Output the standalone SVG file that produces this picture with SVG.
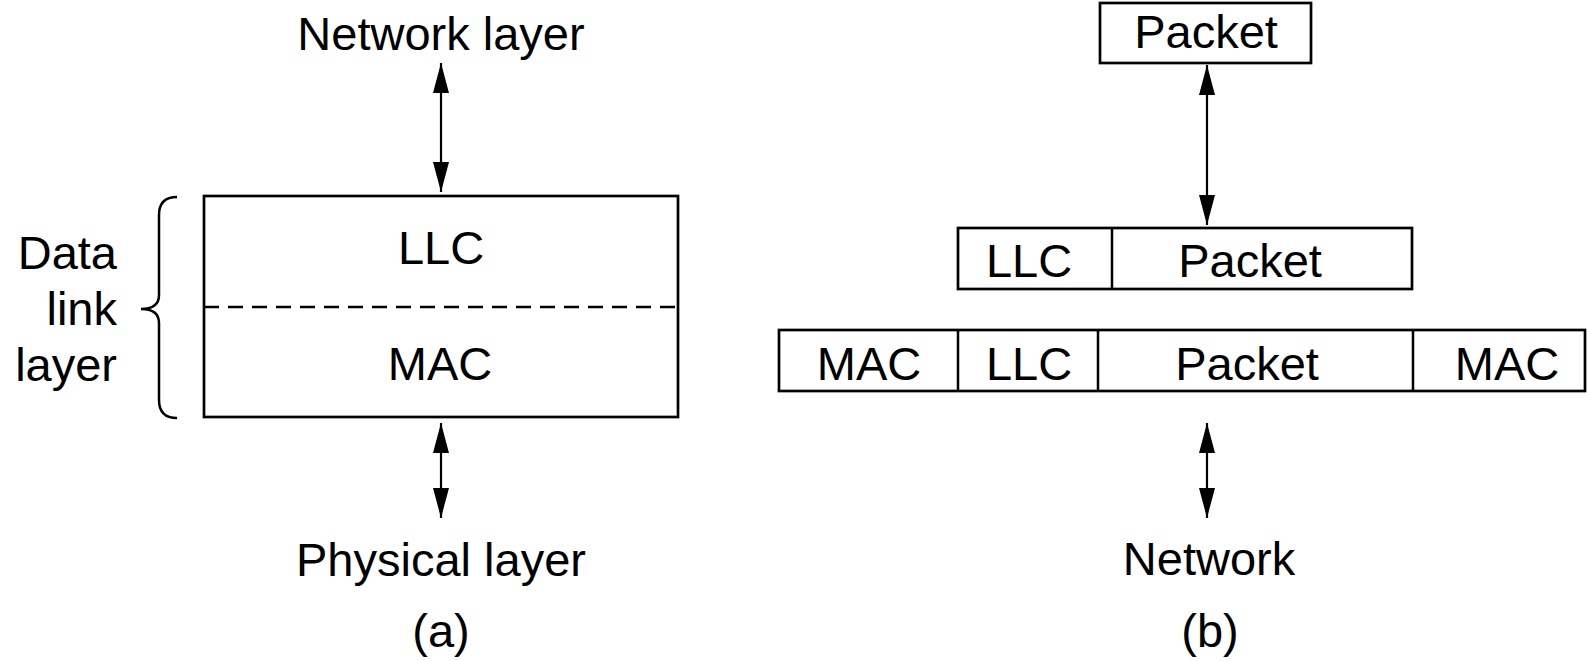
<svg xmlns="http://www.w3.org/2000/svg" width="1587" height="661" viewBox="0 0 1587 661">
<style>
text{font-family:"Liberation Sans",Arial,sans-serif;font-size:47px;fill:#000;text-anchor:middle}
.box{fill:none;stroke:#000;stroke-width:2.7}
.ln{stroke:#000;stroke-width:2.5;fill:none}
.arr{stroke:#000;stroke-width:2.2;fill:none;marker-start:url(#ah);marker-end:url(#ah)}
</style>
<defs>
<marker id="ah" viewBox="0 0 30 16" refX="30" refY="8" markerWidth="30" markerHeight="16" markerUnits="userSpaceOnUse" orient="auto-start-reverse">
<path d="M0,0 L30,8 L0,16 Z" fill="#000"/>
</marker>
</defs>
<rect width="1587" height="661" fill="#fff"/>
<g id="a-network-layer"><text x="441" y="50">Network layer</text></g>
<g id="a-dll-box">
<rect class="box" x="204" y="196" width="474" height="221"/>
<line class="ln" x1="204" y1="307" x2="678" y2="307" stroke-dasharray="15,9"/>
<text x="441" y="264">LLC</text>
<text x="440" y="380">MAC</text>
</g>
<g id="a-brace">
<path class="ln" d="M177,197 C165,197 159,203 159,215 L159,295 C159,305 152,309 141,309 C152,309 159,313 159,323 L159,400 C159,412 165,418 177,418"/>
<text x="117" y="269" style="text-anchor:end">Data</text>
<text x="117" y="325" style="text-anchor:end">link</text>
<text x="117" y="381" style="text-anchor:end">layer</text>
</g>
<g id="a-physical-layer"><text x="441" y="576">Physical layer</text></g>
<g id="a-caption"><text x="441" y="647">(a)</text></g>
<g id="b-packet">
<rect class="box" x="1100" y="3" width="211" height="60"/>
<text x="1206" y="48">Packet</text>
</g>
<g id="b-llc-frame">
<rect class="box" x="958" y="228" width="454" height="61"/>
<line class="ln" x1="1112" y1="228" x2="1112" y2="289"/>
<text x="1029" y="277">LLC</text>
<text x="1250" y="277">Packet</text>
</g>
<g id="b-mac-frame">
<rect class="box" x="779" y="330" width="806" height="61"/>
<line class="ln" x1="958" y1="330" x2="958" y2="391"/>
<line class="ln" x1="1098" y1="330" x2="1098" y2="391"/>
<line class="ln" x1="1413" y1="330" x2="1413" y2="391"/>
<text x="869" y="380">MAC</text>
<text x="1029" y="380">LLC</text>
<text x="1247" y="380">Packet</text>
<text x="1507" y="380">MAC</text>
</g>
<g id="b-network"><text x="1209" y="575">Network</text></g>
<g id="b-caption"><text x="1210" y="647">(b)</text></g>
<g id="connectors">
<line class="arr" x1="441" y1="63" x2="441" y2="192"/>
<line class="arr" x1="441" y1="423" x2="441" y2="518"/>
<line class="arr" x1="1207" y1="65" x2="1207" y2="225"/>
<line class="arr" x1="1207" y1="423" x2="1207" y2="518"/>
</g>
</svg>
